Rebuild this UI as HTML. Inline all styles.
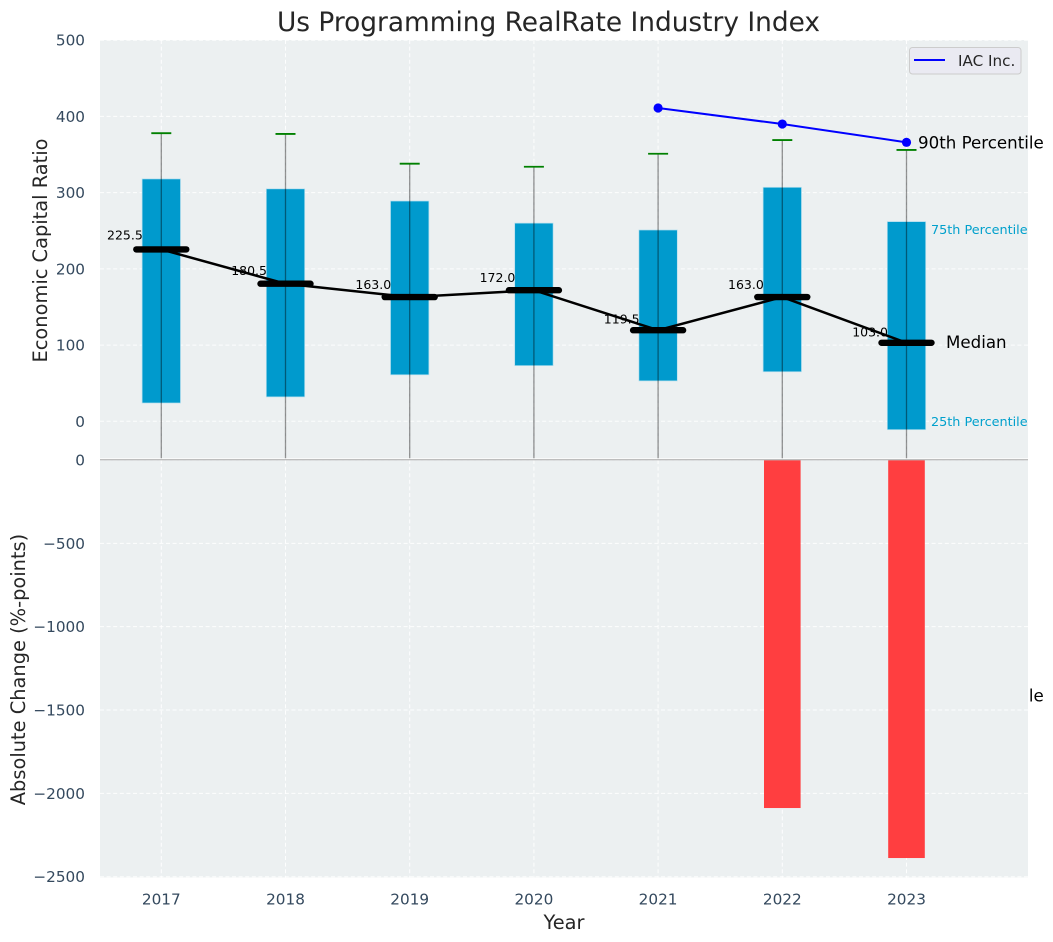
<!DOCTYPE html>
<html lang="en">
<head>
<meta charset="utf-8">
<title>Us Programming RealRate Industry Index</title>
<style>
html,body{margin:0;padding:0;background:#fff;}
svg{display:block;font-family:"DejaVu Sans","Liberation Sans",sans-serif;}
</style>
</head>
<body>
<svg id="chart" xmlns="http://www.w3.org/2000/svg" width="1053" height="942" viewBox="0 0 1053 942">
  <defs>
    <clipPath id="top-clip"><rect x="100" y="40" width="928" height="418.3"/></clipPath>
    <clipPath id="bottom-clip"><rect x="100" y="460" width="928" height="417.5"/></clipPath>
  </defs>
  <rect width="1053" height="942" fill="#ffffff"/>
  <text x="548.5" y="31" text-anchor="middle" font-size="26.4" fill="#262626">Us Programming RealRate Industry Index</text>
  <rect x="100" y="40" width="928" height="418.3" fill="#ecf0f1"/>
  <g id="top-grid"></g>
  <g id="top-ticks"></g>
  <g id="top-marks"></g>
  <g id="annotations"></g>
  <rect x="100" y="460" width="928" height="417.5" fill="#ecf0f1"/>
  <g id="bottom-grid"></g>
  <g id="bottom-ticks"></g>
  <g id="bottom-marks"></g>
  <g id="x-ticks"></g>
  <line x1="100" x2="1028" y1="459.7" y2="459.7" stroke="#bdbdbd" stroke-width="1.4"/>
  <text transform="translate(47,250.5) rotate(-90)" text-anchor="middle" font-size="19.4" fill="#262626">Economic Capital Ratio</text>
  <text transform="translate(25,669.5) rotate(-90)" text-anchor="middle" font-size="19.4" fill="#262626">Absolute Change (%-points)</text>
  <text x="564" y="929" text-anchor="middle" font-size="19.4" fill="#262626">Year</text>
  <g>
    <rect x="909.5" y="47.5" width="111.5" height="26.5" rx="3" fill="#eaeaf2" stroke="#cccccc" stroke-width="1"/>
    <line x1="914" x2="945" y1="60" y2="60" stroke="#0000ff" stroke-width="2"/>
    <text x="958" y="66" font-size="15.2" fill="#262626">IAC Inc.</text>
  </g>
</svg>
<script>
const years = [2017, 2018, 2019, 2020, 2021, 2022, 2023];
const whiskerHigh = [378, 377, 338, 334, 351, 369, 356];
const whiskerLow = [-60, -60, -60, -60, -60, -60, -60];
const boxHigh = [318, 305, 289, 260, 251, 307, 262];
const boxLow = [24, 32, 61, 73, 53, 65, -11];
const medians = [225.5, 180.5, 163.0, 172.0, 119.5, 163.0, 103.0];
const iacYears = [2021, 2022, 2023];
const iacValues = [411, 390, 366];
const changeYears = [2022, 2023];
const changeValues = [-2088, -2388];
const topTicks = [0, 100, 200, 300, 400, 500];
const bottomTicks = [0, -500, -1000, -1500, -2000, -2500];
const noteLabels = ['90th Percentile', '75th Percentile', 'Median', '25th Percentile', '10th Percentile'];
const noteValues = [366, 252, 104, 0, -360];

const NS = 'http://www.w3.org/2000/svg';
function xPos(year) { return 161.3 + (year - 2017) * 124.2; }
function yTop(v) { return 421.3 - v * 0.7622; }
function yBottom(v) { return 460 - v * 0.16668; }
function make(parent, tag, attrs, text) {
  const el = document.createElementNS(NS, tag);
  for (const k in attrs) el.setAttribute(k, attrs[k]);
  if (text !== undefined) el.textContent = text;
  parent.appendChild(el);
  return el;
}
function fmtTick(v) { return v < 0 ? '\u2212' + Math.abs(v) : String(v); }

const topGrid = document.getElementById('top-grid');
const bottomGrid = document.getElementById('bottom-grid');
const topTickG = document.getElementById('top-ticks');
const bottomTickG = document.getElementById('bottom-ticks');
const xTickG = document.getElementById('x-ticks');
const topMarks = document.getElementById('top-marks');
const bottomMarks = document.getElementById('bottom-marks');
const notes = document.getElementById('annotations');
const gridStyle = { stroke: '#ffffff', 'stroke-width': 1, 'stroke-dasharray': '4 2.6', 'stroke-opacity': 0.9 };

topTicks.forEach(function (t) {
  const line = make(topGrid, 'line', Object.assign({ x1: 100, x2: 1028, y1: yTop(t), y2: yTop(t) }, gridStyle));
  
  
  const label = make(topTickG, 'text', { x: 85, y: yTop(t) + 5.5, 'text-anchor': 'end', 'font-size': 15.28, fill: '#34495e' }, fmtTick(t));
  
  
});

bottomTicks.forEach(function (t) {
  const line = make(bottomGrid, 'line', Object.assign({ x1: 100, x2: 1028, y1: yBottom(t), y2: yBottom(t) }, gridStyle));
  
  
  const label = make(bottomTickG, 'text', { x: 85, y: yBottom(t) + 5.5, 'text-anchor': 'end', 'font-size': 15.28, fill: '#34495e' }, fmtTick(t));
  
  
});

years.forEach(function (yr) {
  const vTop = make(topGrid, 'line', Object.assign({ x1: xPos(yr), x2: xPos(yr), y1: 40, y2: 458.3 }, gridStyle));
  
  
  const vBottom = make(bottomGrid, 'line', Object.assign({ x1: xPos(yr), x2: xPos(yr), y1: 460, y2: 877.5 }, gridStyle));
  
  
  const label = make(xTickG, 'text', { x: xPos(yr), y: 904.5, 'text-anchor': 'middle', 'font-size': 15.28, fill: '#34495e' }, String(yr));
  
  
});

const clipped = make(topMarks, 'g', { 'clip-path': 'url(#top-clip)' });



years.forEach(function (yr, i) {
  const cx = xPos(yr);
  const box = make(clipped, 'rect', {
    x: cx - 19.2, width: 38.4,
    y: yTop(boxHigh[i]), height: yTop(boxLow[i]) - yTop(boxHigh[i]),
    fill: '#009acd', stroke: '#b5dfee', 'stroke-width': 0.7
  });
  
  
});

years.forEach(function (yr, i) {
  const cx = xPos(yr);
  const whisker = make(clipped, 'line', {
    x1: cx, x2: cx, y1: yTop(whiskerHigh[i]), y2: yTop(whiskerLow[i]),
    stroke: '#000000', 'stroke-opacity': 0.42, 'stroke-width': 1.3
  });
  
  
  const cap = make(clipped, 'line', {
    x1: cx - 10, x2: cx + 10, y1: yTop(whiskerHigh[i]), y2: yTop(whiskerHigh[i]),
    stroke: '#008000', 'stroke-width': 1.8
  });
  
  
  const val = make(clipped, 'text', {
    x: cx - 18.5, y: yTop(medians[i] * 1.04 + 10) + 4.5, 'text-anchor': 'end', 'font-size': 12.5, fill: '#000000'
  }, medians[i].toFixed(1));
  
  
});

const medianLine = make(clipped, 'polyline', {
  points: years.map(function (yr, i) { return xPos(yr) + ',' + yTop(medians[i]); }).join(' '),
  fill: 'none', stroke: '#000000', 'stroke-width': 2.5
});



years.forEach(function (yr, i) {
  const cx = xPos(yr);
  const m = make(clipped, 'line', {
    x1: cx - 25, x2: cx + 25, y1: yTop(medians[i]), y2: yTop(medians[i]),
    stroke: '#000000', 'stroke-width': 6.4, 'stroke-linecap': 'round'
  });
  
  
});

const iacLine = make(clipped, 'polyline', {
  points: iacYears.map(function (yr, i) { return xPos(yr) + ',' + yTop(iacValues[i]); }).join(' '),
  fill: 'none', stroke: '#0000ff', 'stroke-width': 2
});



iacYears.forEach(function (yr, i) {
  const dot = make(clipped, 'circle', { cx: xPos(yr), cy: yTop(iacValues[i]), r: 4.6, fill: '#0000ff' });
  
  
});

const noteX = [11.5, 24.5, 39.5, 24.5, 11.5];
const noteSize = [16.67, 12.8, 16.67, 12.8, 16.67];
const noteFill = ['#000000', '#00a0cc', '#000000', '#00a0cc', '#000000'];
noteLabels.forEach(function (txt, i) {
  const t = make(notes, 'text', {
    x: xPos(2023) + noteX[i],
    y: yTop(noteValues[i]) + noteSize[i] * 0.36,
    'font-size': noteSize[i],
    fill: noteFill[i]
  }, txt);
  
  
});

const clippedBottom = make(bottomMarks, 'g', { 'clip-path': 'url(#bottom-clip)' });


changeYears.forEach(function (yr, i) {
  const y0 = yBottom(0);
  const y1 = yBottom(changeValues[i]);
  const bar = make(clippedBottom, 'rect', {
    x: xPos(yr) - 18.3, width: 36.6, y: y0, height: y1 - y0, fill: '#ff3e40'
  });
  
  
});
</script>
</body>
</html>
